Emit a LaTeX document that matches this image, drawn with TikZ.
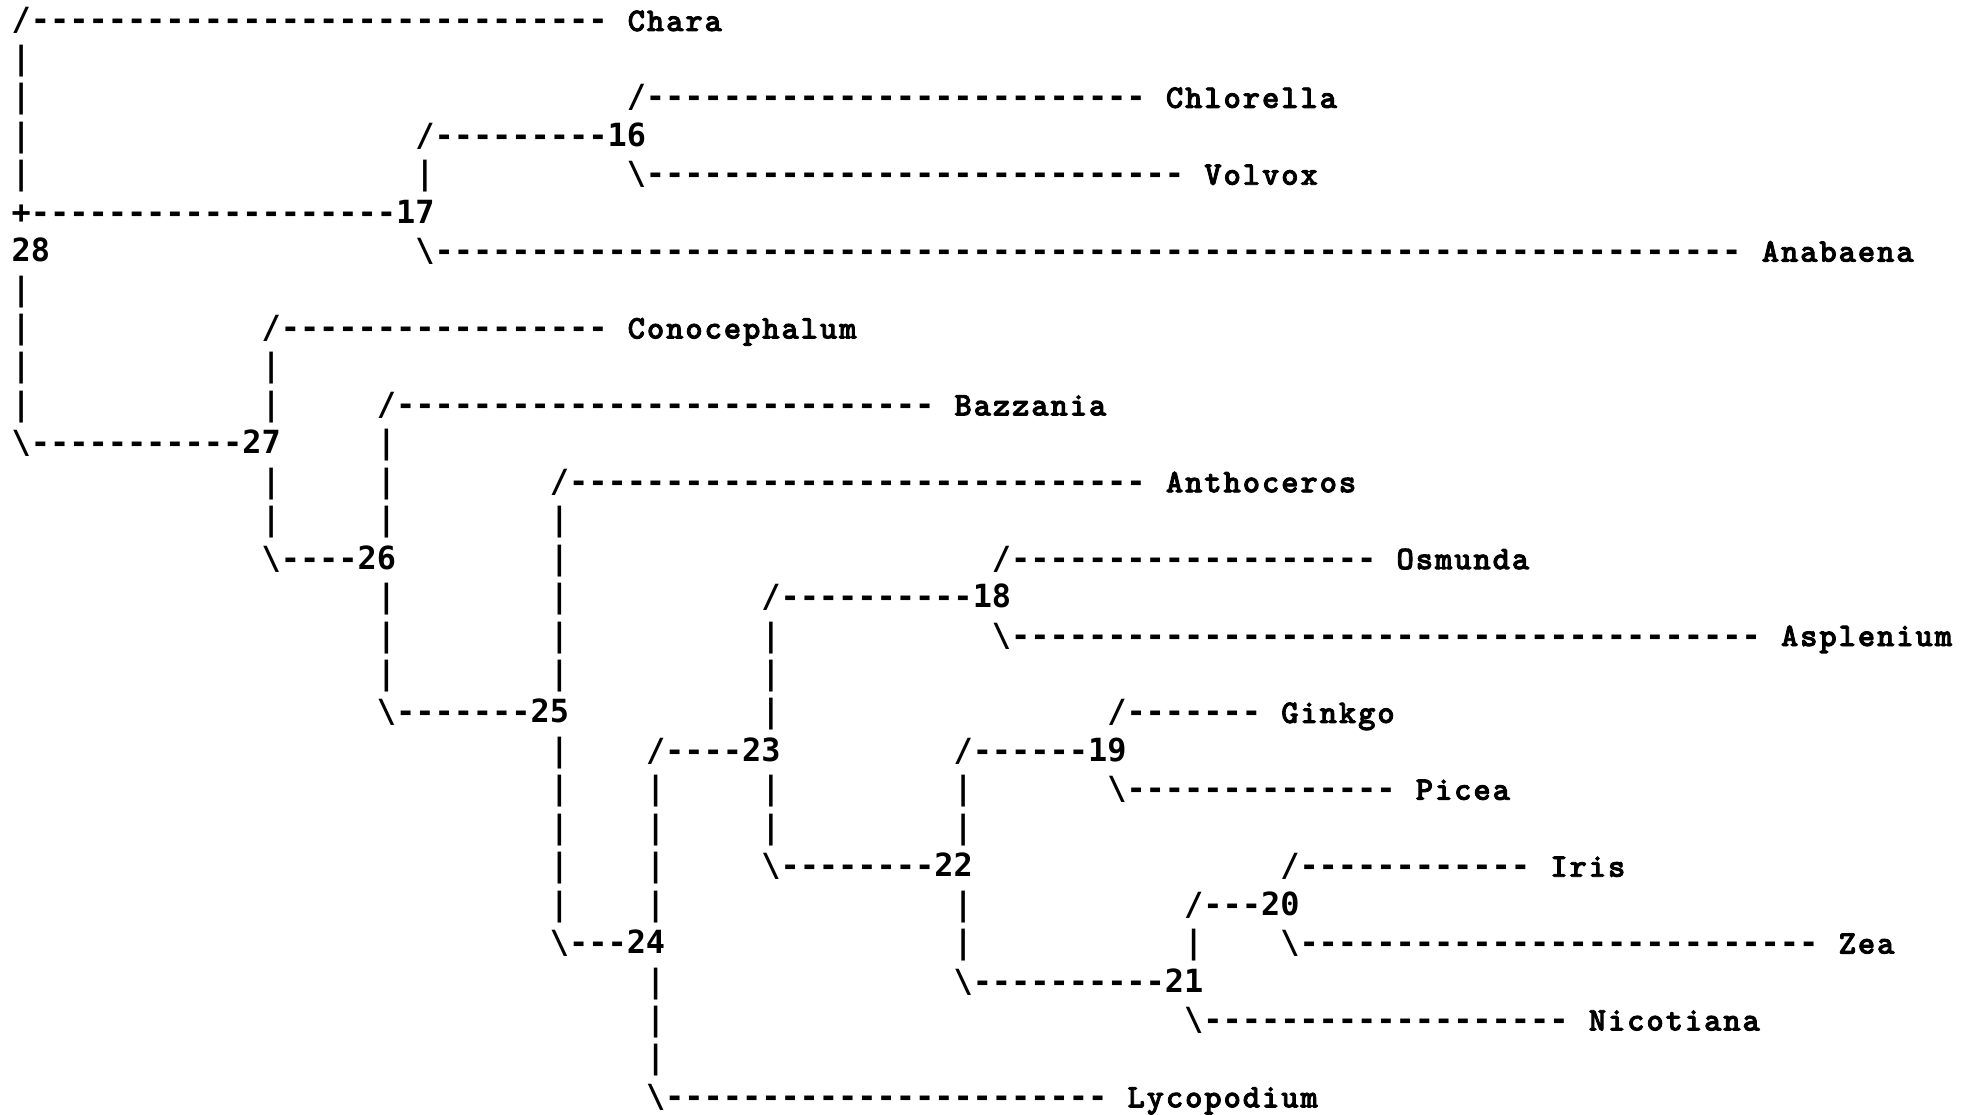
\documentclass[tikz,border=0pt]{standalone}
\usepackage{fontspec}
\setmonofont{DejaVu Sans Mono}
\newfontfamily\taxonfont{lmmonolt10-bold.otf}[FakeBold=2.5]
\usepackage{tikz}
\usetikzlibrary{positioning}

\newlength\cw
\setlength\cw{9.61pt}
\ExplSyntaxOn
% one character per column of the grid
\NewDocumentCommand\spread{m}{\tl_map_inline:nn{#1}{\makebox[\cw]{##1}}}
% corner glyph and a run of dashes
\NewDocumentCommand\branch{mm}{\makebox[\cw]{#1}\prg_replicate:nn{#2}{\makebox[\cw]{-}}}
\ExplSyntaxOff

\tikzset{
  glyph/.style={inner sep=0pt, outer sep=0pt, anchor=base west,
    font=\fontsize{15.96pt}{19.22pt}\ttfamily\bfseries},
  taxon/.style={glyph, font=\fontsize{16.5pt}{19.22pt}\taxonfont},
  inode/.style={glyph},
}

\begin{document}
\begin{tikzpicture}[x=\cw, y=-19.22pt]
\fill[white] (-0.609,-0.806) rectangle (101.52,28.175);
\useasboundingbox (-0.609,-0.806) rectangle (101.52,28.175);

  % Define nodes
\node[taxon] (chara)        at (32,0)  {\spread{Chara}};
\node[taxon] (chlorella)    at (60,2)  {\spread{Chlorella}};
\node[taxon] (volvox)       at (62,4)  {\spread{Volvox}};
\node[taxon] (anabaena)     at (91,6)  {\spread{Anabaena}};
\node[taxon] (conocephalum) at (32,8)  {\spread{Conocephalum}};
\node[taxon] (bazzania)     at (49,10) {\spread{Bazzania}};
\node[taxon] (anthoceros)   at (60,12) {\spread{Anthoceros}};
\node[taxon] (osmunda)      at (72,14) {\spread{Osmunda}};
\node[taxon] (asplenium)    at (92,16) {\spread{Asplenium}};
\node[taxon] (ginkgo)       at (66,18) {\spread{Ginkgo}};
\node[taxon] (picea)        at (73,20) {\spread{Picea}};
\node[taxon] (iris)         at (80,22) {\spread{Iris}};
\node[taxon] (zea)          at (95,24) {\spread{Zea}};
\node[taxon] (nicotiana)    at (82,26) {\spread{Nicotiana}};
\node[taxon] (lycopodium)   at (58,28) {\spread{Lycopodium}};

\node[inode] (n16) at (31,3)  {\spread{16}};
\node[inode] (n17) at (20,5)  {\spread{17}};
\node[inode] (n28) at (0,6)   {\spread{28}};
\node[inode] (n27) at (12,11) {\spread{27}};
\node[inode] (n26) at (18,14) {\spread{26}};
\node[inode] (n18) at (50,15) {\spread{18}};
\node[inode] (n25) at (27,18) {\spread{25}};
\node[inode] (n23) at (38,19) {\spread{23}};
\node[inode] (n19) at (56,19) {\spread{19}};
\node[inode] (n22) at (48,22) {\spread{22}};
\node[inode] (n20) at (65,23) {\spread{20}};
\node[inode] (n24) at (32,24) {\spread{24}};
\node[inode] (n21) at (60,25) {\spread{21}};

  % Connect the nodes
\node[glyph, base left=\cw of chara]      (b-chara)        {\branch{/}{30}};
\node[glyph, base left=\cw of chlorella]  (b-chlorella)    {\branch{/}{26}};
\node[glyph, base left=0pt of n16]        (b-n16)          {\branch{/}{9}};
\node[glyph, base left=\cw of volvox]     (b-volvox)       {\branch{\textbackslash}{28}};
\node[glyph, base left=0pt of n17]        (b-n17)          {\branch{+}{19}};
\node[glyph, base left=\cw of anabaena]   (b-anabaena)     {\branch{\textbackslash}{68}};
\node[glyph, base left=\cw of conocephalum] (b-conocephalum) {\branch{/}{17}};
\node[glyph, base left=\cw of bazzania]   (b-bazzania)     {\branch{/}{28}};
\node[glyph, base left=0pt of n27]        (b-n27)          {\branch{\textbackslash}{11}};
\node[glyph, base left=\cw of anthoceros] (b-anthoceros)   {\branch{/}{30}};
\node[glyph, base left=0pt of n26]        (b-n26)          {\branch{\textbackslash}{4}};
\node[glyph, base left=\cw of osmunda]    (b-osmunda)      {\branch{/}{19}};
\node[glyph, base left=0pt of n18]        (b-n18)          {\branch{/}{10}};
\node[glyph, base left=\cw of asplenium]  (b-asplenium)    {\branch{\textbackslash}{39}};
\node[glyph, base left=0pt of n25]        (b-n25)          {\branch{\textbackslash}{7}};
\node[glyph, base left=\cw of ginkgo]     (b-ginkgo)       {\branch{/}{7}};
\node[glyph, base left=0pt of n23]        (b-n23)          {\branch{/}{4}};
\node[glyph, base left=0pt of n19]        (b-n19)          {\branch{/}{6}};
\node[glyph, base left=\cw of picea]      (b-picea)        {\branch{\textbackslash}{14}};
\node[glyph, base left=0pt of n22]        (b-n22)          {\branch{\textbackslash}{8}};
\node[glyph, base left=\cw of iris]       (b-iris)         {\branch{/}{12}};
\node[glyph, base left=0pt of n20]        (b-n20)          {\branch{/}{3}};
\node[glyph, base left=0pt of n24]        (b-n24)          {\branch{\textbackslash}{3}};
\node[glyph, base left=\cw of zea]        (b-zea)          {\branch{\textbackslash}{27}};
\node[glyph, base left=0pt of n21]        (b-n21)          {\branch{\textbackslash}{10}};
\node[glyph, base left=\cw of nicotiana]  (b-nicotiana)    {\branch{\textbackslash}{19}};
\node[glyph, base left=\cw of lycopodium] (b-lycopodium)   {\branch{\textbackslash}{23}};

  % Vertical bars
\foreach \r in {1,...,4,7,8,9,10} \node[glyph] (v0-\r) at (0,\r) {\spread{|}};
\foreach \r in {4} \node[glyph] (v21-\r) at (21,\r) {\spread{|}};
\foreach \r in {9,10,12,13} \node[glyph] (v13-\r) at (13,\r) {\spread{|}};
\foreach \r in {11,12,13,15,16,17} \node[glyph] (v19-\r) at (19,\r) {\spread{|}};
\foreach \r in {13,...,17,19,20,21,22,23} \node[glyph] (v28-\r) at (28,\r) {\spread{|}};
\foreach \r in {20,...,23,25,26,27} \node[glyph] (v33-\r) at (33,\r) {\spread{|}};
\foreach \r in {16,17,18,20,21} \node[glyph] (v39-\r) at (39,\r) {\spread{|}};
\foreach \r in {20,21,23,24} \node[glyph] (v49-\r) at (49,\r) {\spread{|}};
\foreach \r in {24} \node[glyph] (v61-\r) at (61,\r) {\spread{|}};

\end{tikzpicture}
\end{document}
